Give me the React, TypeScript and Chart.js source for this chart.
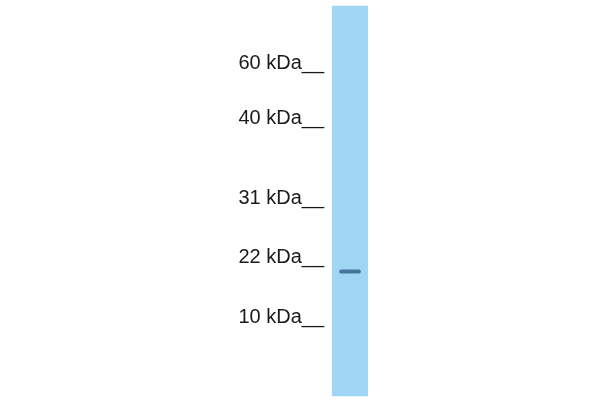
import { useEffect, useRef } from "react";
import { Chart, registerables } from "chart.js";

Chart.register(...registerables);

// marker ladder: label + migration position (px from top of gel image)
const markerLabels = ["60 kDa__", "40 kDa__", "31 kDa__", "22 kDa__", "10 kDa__"];
const markerPositions = [63, 118.5, 198.5, 257.5, 317];

const lanes = ["Lane 1"];
const laneSpan: [number, number][] = [[6, 396]];
const bandSpan: [number, number][] = [[269.5, 273.5]];

const App = () => {
  const canvasRef = useRef<HTMLCanvasElement>(null);
  const chartRef = useRef<Chart | null>(null);

  useEffect(() => {
    if (!canvasRef.current) return;
    if (chartRef.current) chartRef.current.destroy();

    chartRef.current = new Chart(canvasRef.current, {
      type: "bar",
      data: {
        labels: lanes,
        datasets: [
          {
            label: "band",
            data: bandSpan,
            backgroundColor: "rgba(48, 92, 132, 0.8)",
            borderRadius: 2,
            borderSkipped: false,
            barPercentage: 0.6,
            categoryPercentage: 1,
            order: 0,
          },
          {
            label: "lane",
            data: laneSpan,
            backgroundColor: "rgb(158, 214, 243)",
            barPercentage: 1,
            categoryPercentage: 1,
            order: 1,
          },
        ],
      },
      options: {
        animation: false,
        responsive: true,
        maintainAspectRatio: false,
        layout: { padding: { left: 232, right: 232, top: 0, bottom: 0 } },
        datasets: { bar: { grouped: false } },
        plugins: {
          legend: { display: false },
          tooltip: { enabled: false },
        },
        scales: {
          x: { display: false },
          y: {
            reverse: true,
            min: 0,
            max: 400,
            grid: { display: false, drawTicks: false },
            border: { display: false },
            afterFit: (scale) => {
              scale.width = 100;
              scale.paddingTop = 0;
              scale.paddingBottom = 0;
            },
            afterBuildTicks: (scale) => {
              scale.ticks = markerPositions.map((v) => ({ value: v }));
            },
            ticks: {
              padding: 8,
              color: "#1a1a1a",
              font: { family: "'Liberation Sans', Arial, sans-serif", size: 20 },
              callback: (_value, index) => markerLabels[index],
            },
          },
        },
      },
    });

    return () => {
      if (chartRef.current) {
        chartRef.current.destroy();
        chartRef.current = null;
      }
    };
  }, []);

  return (
    <div style={{ position: "fixed", left: 0, top: 0, width: 600, height: 400, background: "#fff" }}>
      <canvas ref={canvasRef} />
    </div>
  );
};

export default App;
